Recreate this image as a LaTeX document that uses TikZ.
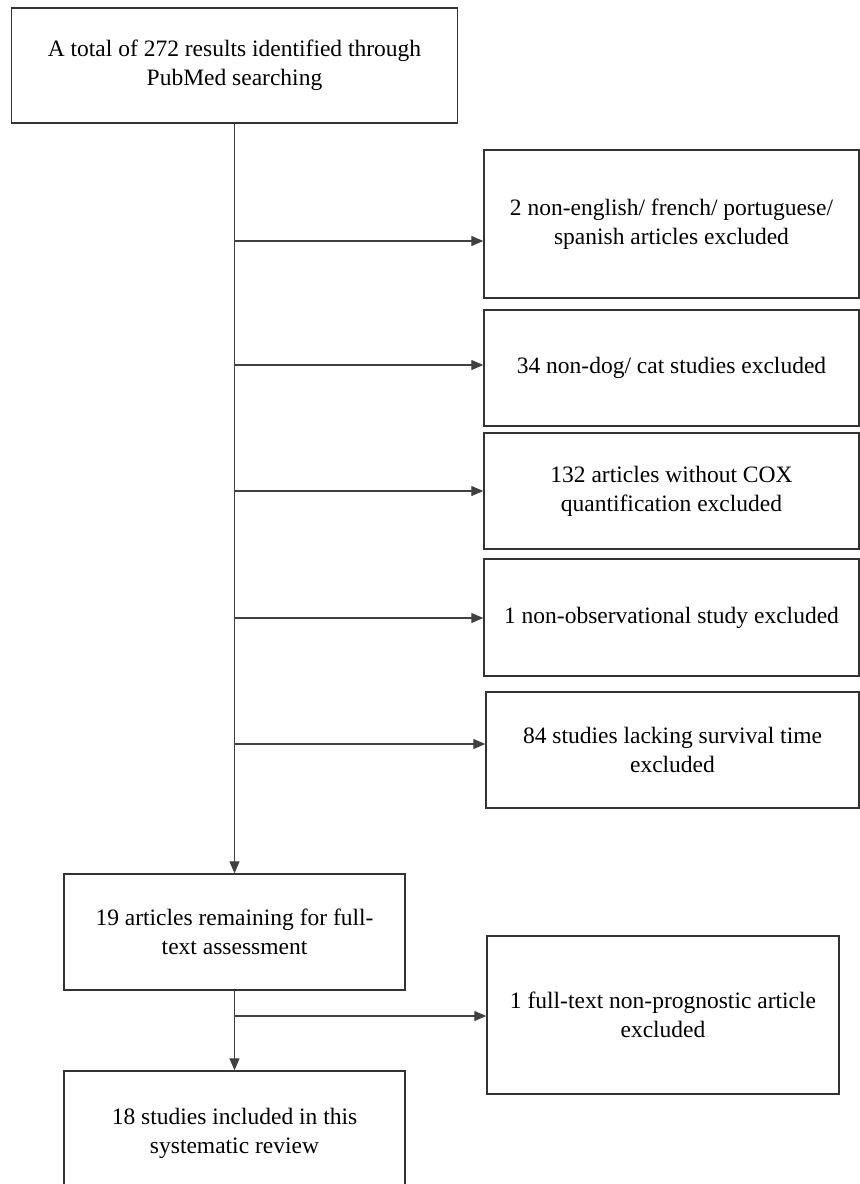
\documentclass[tikz,border=0pt]{standalone}
\usepackage{fontspec}
\setmainfont{Liberation Serif}
\usepackage{tikz}
\usetikzlibrary{arrows.meta, positioning}

\begin{document}
\begin{tikzpicture}[
    x=0.5pt, y=-0.5pt,
    stage/.style={rectangle, draw=black!80, line width=0.7pt, inner sep=0pt, align=center, font=\fontsize{11.75}{14.5}\selectfont},
    excl/.style={stage, minimum width=187.5pt, minimum height=58pt},
    arrow/.style={-{Triangle[length=6pt, width=5pt]}, line width=0.6pt, draw=black!75}
]
\useasboundingbox (0,0) rectangle (860,1184);
\clip (0,0) rectangle (860,1184);

% Main column
\node[stage, minimum width=223pt, minimum height=57.5pt] (search) at (234.5,65.5) {A total of 272 results identified through\\PubMed searching};
\node[stage, minimum width=170.5pt, minimum height=58pt] (remain) at (234.5,932) {19 articles remaining for full-\\text assessment};
\node[stage, minimum width=170.5pt, minimum height=62pt] (incl) at (234.5,1133) {18 studies included in this\\systematic review};

% Exclusions
\node[excl, minimum height=74pt] (lang) at (671.5,224) {2 non-english/ french/ portuguese/\\spanish articles excluded};
\node[excl] (species) at (671.5,368) {34 non-dog/ cat studies excluded};
\node[excl] (cox) at (671.5,491) {132 articles without COX\\quantification excluded};
\node[excl, minimum height=58.5pt] (obs) at (671.5,617.5) {1 non-observational study excluded};
\node[excl, minimum width=186.5pt] (surv) at (672.5,750) {84 studies lacking survival time\\excluded};
\node[excl, minimum width=176pt, minimum height=79pt] (prog) at (663,1015) {1 full-text non-prognostic article\\excluded};

% Flow
\draw[arrow] (search) -- (remain);
\draw[arrow] (remain) -- (incl);

% Branch points on the flow line
\coordinate (b1) at (234.5,241);
\coordinate (b2) at (234.5,365);
\coordinate (b3) at (234.5,491);
\coordinate (b4) at (234.5,618);
\coordinate (b5) at (234.5,744);
\coordinate (b6) at (234.5,1016);

\draw[arrow] (b1) -- (b1 -| lang.west);
\draw[arrow] (b2) -- (b2 -| species.west);
\draw[arrow] (b3) -- (b3 -| cox.west);
\draw[arrow] (b4) -- (b4 -| obs.west);
\draw[arrow] (b5) -- (b5 -| surv.west);
\draw[arrow] (b6) -- (b6 -| prog.west);

\end{tikzpicture}
\end{document}
